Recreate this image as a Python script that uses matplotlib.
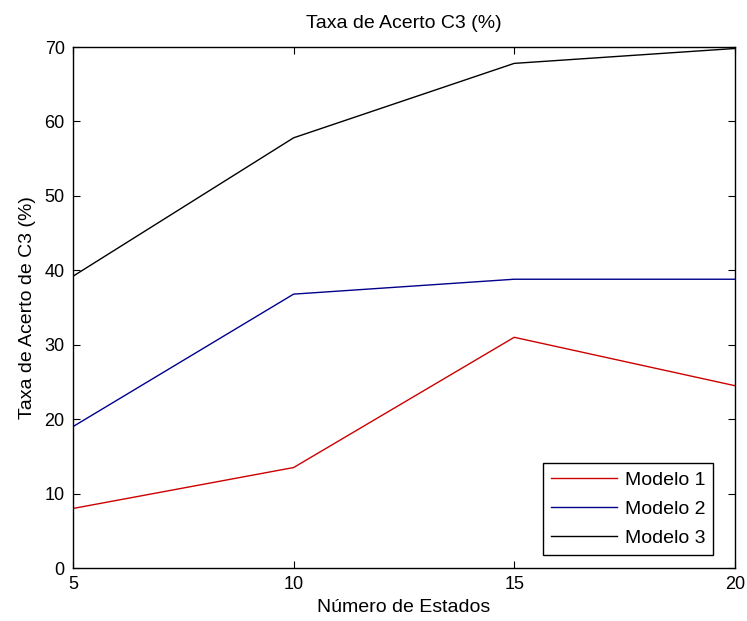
import numpy as np
import matplotlib.pyplot as plt

plt.rcParams['font.family'] = ['Liberation Sans', 'DejaVu Sans']

estados = [5, 10, 15, 20]
modelo1 = [8.0, 13.5, 31.0, 24.5]
modelo2 = [19.0, 36.8, 38.8, 38.8]
modelo3 = [39.2, 57.8, 67.8, 69.8]

fig = plt.figure(figsize=(7.47, 6.21), dpi=100)
ax = fig.add_axes([0.0977, 0.0853, 0.886, 0.839])

ax.plot(estados, modelo1, color='#cc0000', lw=1.0, label='Modelo 1')
ax.plot(estados, modelo2, color='#00008b', lw=1.0, label='Modelo 2')
ax.plot(estados, modelo3, color='black', lw=1.0, label='Modelo 3')

ax.set_xlim(5, 20)
ax.set_ylim(0, 70)
ax.set_xticks([5, 10, 15, 20])
ax.set_yticks(np.arange(0, 71, 10))
ax.tick_params(direction='in', top=True, right=True, labelsize=13, length=5, pad=6)
for s in ax.spines.values():
    s.set_linewidth(1.0)

ax.set_title('Taxa de Acerto C3 (%)', fontsize=14, pad=14)
ax.set_xlabel('Número de Estados', fontsize=14, labelpad=4)
ax.set_ylabel('Taxa de Acerto de C3 (%)', fontsize=14, labelpad=6)

leg = ax.legend(loc='lower right', bbox_to_anchor=(0.967, 0.025), borderaxespad=0,
                fontsize=14, fancybox=False, framealpha=1, edgecolor='black',
                handlelength=3.4, handletextpad=0.4, labelspacing=0.6)
leg.get_frame().set_linewidth(1.0)

fig.savefig('out.png', dpi=100)
